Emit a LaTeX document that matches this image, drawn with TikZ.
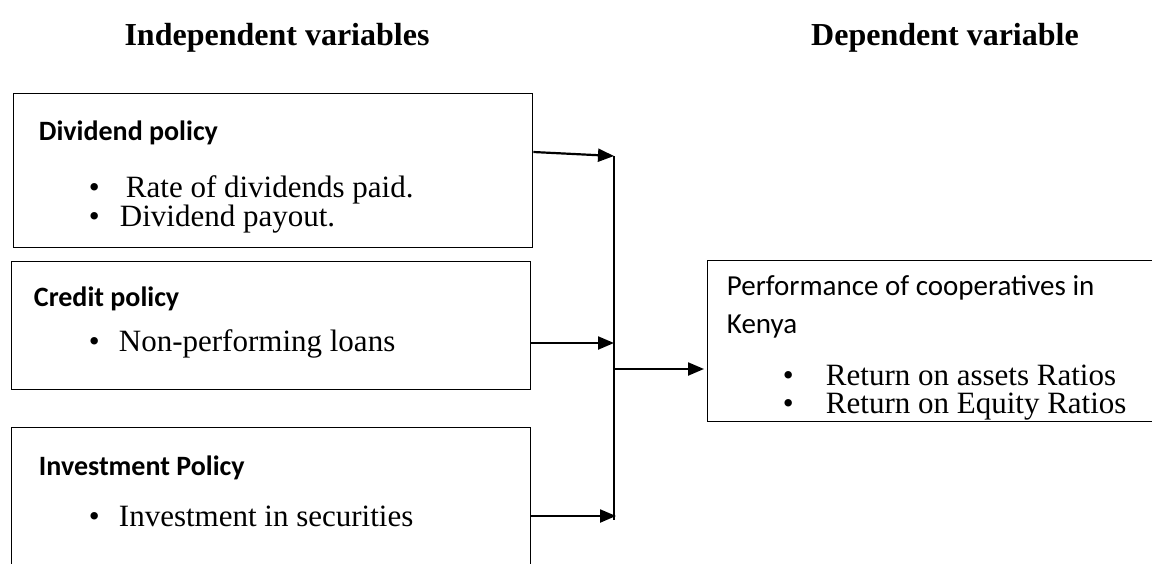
\documentclass[tikz,border=0pt]{standalone}
\usepackage{fontspec}
\setmainfont{Liberation Serif}
\newfontfamily\calib{Carlito}
\usepackage{tikz}
\usetikzlibrary{arrows.meta}

\tikzset{
  box/.style={draw, line width=1.4pt, anchor=north west, inner sep=0pt},
  arr/.style={line width=2.2pt, -{Triangle[length=16pt,width=13pt]}},
  title/.style={anchor=base, inner sep=0.75pt, font=\fontsize{32}{38}\selectfont\bfseries},
  head/.style={anchor=base west, inner sep=0.75pt, font=\fontsize{28}{33}\selectfont\calib\bfseries},
  item/.style={anchor=base west, inner sep=0.75pt, font=\fontsize{31}{36}\selectfont},
  plain/.style={anchor=base west, inner sep=0.75pt, font=\fontsize{29}{34}\selectfont\calib}
}

\begin{document}
\begin{tikzpicture}[x=1pt,y=1pt,yscale=-1]
    %set diagram area 1152 x 563
    \clip (0,0) rectangle (1152,563);

    % Titles
    \draw (277,45) node [title] (indep) {Independent variables};
    \draw (945,45) node [title] (dep) {Dependent variable};

    %Shape: Rectangle [dividend]
    \node [box, minimum width=519pt, minimum height=154pt] (dividend) at (13,93) {};
    %Shape: Rectangle [credit]
    \node [box, minimum width=519pt, minimum height=128pt] (credit) at (11,261) {};
    %Shape: Rectangle [invest] (runs off the bottom)
    \node [box, minimum width=519pt, minimum height=180pt] (invest) at (11,427) {};
    %Shape: Rectangle [perf]
    \node [box, minimum width=460pt, minimum height=161pt] (perf) at (707,260) {};

    % Text Node
    \draw (38,140) node [head] (dhead) {Dividend policy};
    % Text Node
    \draw (88,197) node [item] (db1) {\textbullet};
    % Text Node
    \draw (125,197) node [item] (dt1) {Rate of dividends paid.};
    % Text Node
    \draw (88,226) node [item] (db2) {\textbullet};
    % Text Node
    \draw (119,226) node [item] (dt2) {Dividend payout.};
    % Text Node
    \draw (33,306) node [head] (chead) {Credit policy};
    % Text Node
    \draw (88,351) node [item] (cb1) {\textbullet};
    % Text Node
    \draw (118,351) node [item] (ct1) {Non-performing loans};
    % Text Node
    \draw (38,475) node [head] (ihead) {Investment Policy};
    % Text Node
    \draw (88,526) node [item] (ib1) {\textbullet};
    % Text Node
    \draw (118,526) node [item] (it1) {Investment in securities};
    % Text Node
    \draw (726,295) node [plain] (ptext1) {Performance of cooperatives in};
    % Text Node
    \draw (726,333) node [plain] (ptext2) {Kenya};
    % Text Node
    \draw (782,385) node [item] (pb1) {\textbullet};
    % Text Node
    \draw (825,385) node [item] (pt1) {Return on assets Ratios};
    % Text Node
    \draw (782,413) node [item] (pb2) {\textbullet};
    % Text Node
    \draw (825,413) node [item] (pt2) {Return on Equity Ratios};

    % bus line
    \coordinate (busTop) at (614,156);
    \coordinate (busCredit) at (614,343);
    \coordinate (busMid) at (614,369);
    \coordinate (busInv) at (616,516);
    \coordinate (busBot) at (614,520);

    %Straight Lines
    \draw [arr] ([yshift=59pt]dividend.north east) -- (busTop);
    \draw [arr] ([yshift=82pt]credit.north east) -- (busCredit);
    \draw [arr] ([yshift=89pt]invest.north east) -- (busInv);
    \draw [line width=1.5pt] (busTop) -- (busBot);
    \draw [arr, shorten >=3pt] (busMid) -- (perf.west |- busMid);

\end{tikzpicture}
\end{document}
